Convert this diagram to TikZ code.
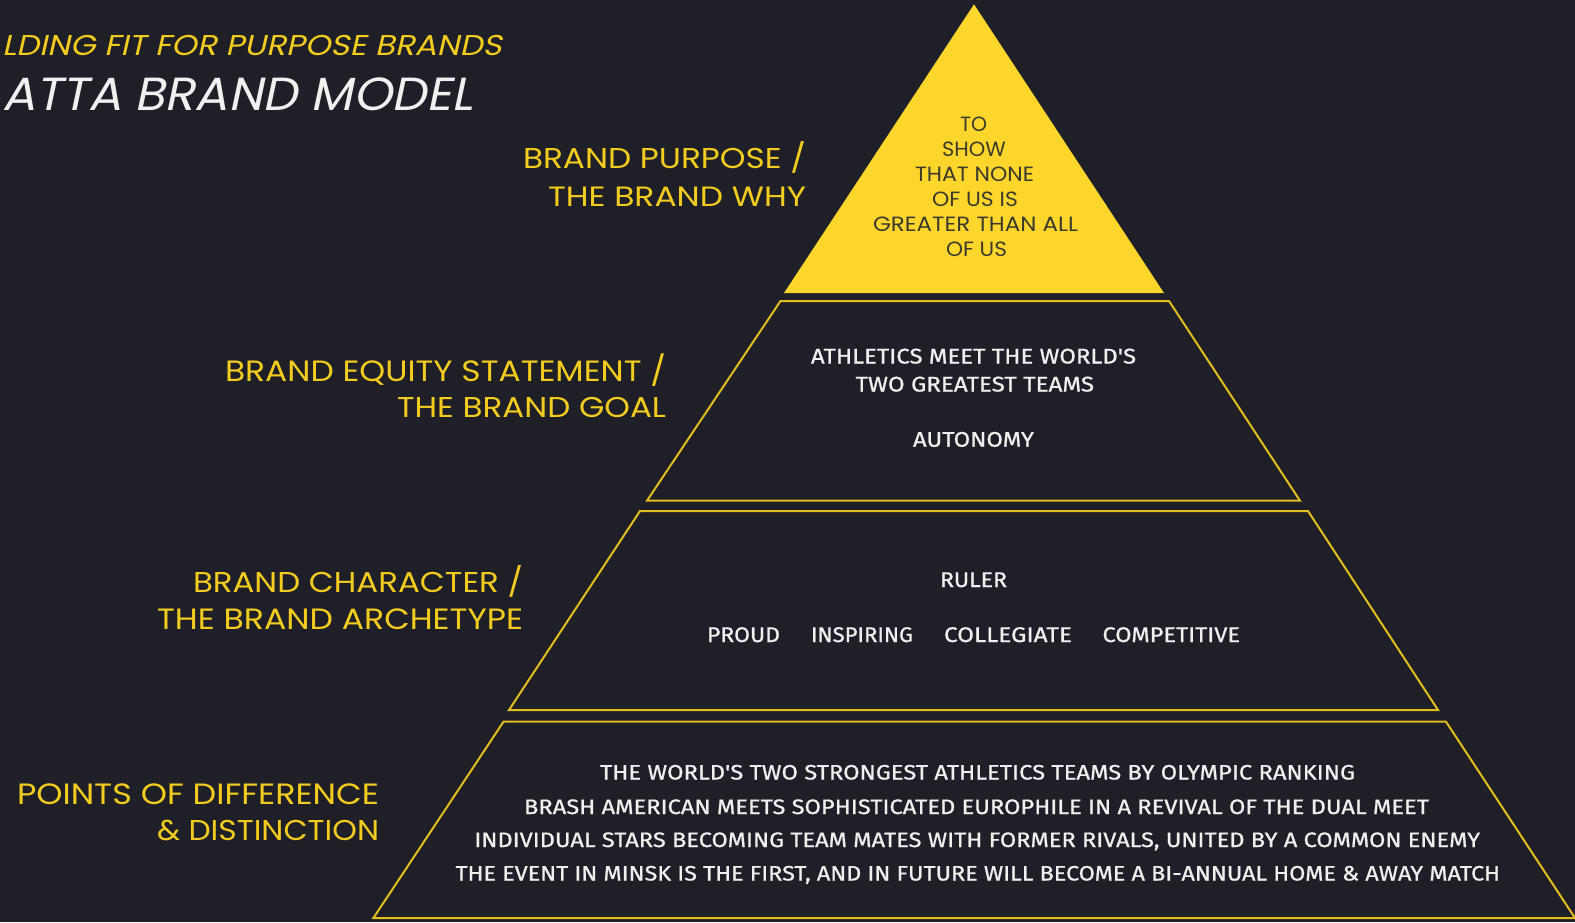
\documentclass[tikz,border=0pt]{standalone}
\usepackage{fontspec}
\usepackage{graphicx}
\newfontfamily\labfont{Poppins}
\newfontfamily\titfont[FakeSlant=0.2]{Poppins}
\newfontfamily\bodyfont[FakeBold=0.8]{Fira Sans}
\definecolor{bg}{HTML}{1F1F28}
\definecolor{ylw}{HTML}{F3CC1F}
\definecolor{tri}{HTML}{FCD62A}
\definecolor{edge}{HTML}{E2BD1E}
\definecolor{tritext}{HTML}{3B3A2C}
\definecolor{wht}{HTML}{F0F0F0}
\newsavebox\capbox
\newcommand\capfit[3]{\sbox\capbox{#3}\ht\capbox=\fontcharht\font`H\relax\dp\capbox=0pt\resizebox{#1}{#2}{\usebox\capbox}}
\newcommand\txt[7]{%
  \pgfmathsetmacro\tw{#4-#3}%
  \node[#2, anchor=base west, inner sep=0pt, outer sep=0pt] (#1) at (#3,#5) {\capfit{\tw pt}{#6pt}{#7}};%
}
\tikzset{
  titlea/.style={font=\titfont, text=ylw},
  titleb/.style={font=\titfont, text=wht},
  lab/.style={font=\labfont, text=ylw},
  tritxt/.style={font=\labfont, text=tritext},
  body/.style={font=\bodyfont, text=wht},
  tier/.style={draw=edge, line width=2pt, line join=miter},
}
\begin{document}
\begin{tikzpicture}[x=1pt,y=-1pt]
\fill[bg] (0,0) rectangle (1575,922);
\useasboundingbox (0,0) rectangle (1575,922);
% corners
\coordinate (apex) at (974,4.3);
\coordinate (tbl) at (784,293);
\coordinate (tbr) at (1164,293);
\coordinate (a1) at (780.5,301); \coordinate (a2) at (1169,301);
\coordinate (a3) at (1300,500.7); \coordinate (a4) at (647,500.7);
\coordinate (b1) at (640,511); \coordinate (b2) at (1308,511);
\coordinate (b3) at (1438,710); \coordinate (b4) at (509,710);
\coordinate (c1) at (503.5,721.7); \coordinate (c2) at (1446,721.7);
\coordinate (c3) at (1575,918); \coordinate (c4) at (373.4,918);
% pyramid
\fill[tri] (apex) -- (tbl) -- (tbr) -- cycle;
\draw[tier] (a1) -- (a2) -- (a3) -- (a4) -- cycle;
\draw[tier] (b1) -- (b2) -- (b3) -- (b4) -- cycle;
\draw[tier] (c1) -- (c2) -- (c3) -- (c4) -- cycle;
% title
\txt{t1}{titlea}{2}{501.7}{55}{20}{LDING FIT FOR PURPOSE BRANDS}
\txt{t2}{titleb}{2}{473}{110.7}{32.4}{ATTA BRAND MODEL}
% labels
\txt{l1a}{lab}{523}{806}{168}{20}{BRAND PURPOSE /}
\txt{l1b}{lab}{548}{806}{206}{19.5}{THE BRAND WHY}
\txt{l2a}{lab}{225}{666}{381}{20.5}{BRAND EQUITY STATEMENT /}
\txt{l2b}{lab}{397}{666}{417}{20}{THE BRAND GOAL}
\txt{l3a}{lab}{193}{523}{592}{20}{BRAND CHARACTER /}
\txt{l3b}{lab}{157}{523}{629}{20.5}{THE BRAND ARCHETYPE}
\txt{l4a}{lab}{17}{379}{804}{20.5}{POINTS OF DIFFERENCE}
\txt{l4b}{lab}{157}{379}{840}{20}{\& DISTINCTION}
% triangle text
\txt{p1}{tritxt}{960}{987}{131.7}{14.4}{TO}
\txt{p2}{tritxt}{942}{1005.7}{156.7}{14.4}{SHOW}
\txt{p3}{tritxt}{915}{1034}{181.7}{14.4}{THAT NONE}
\txt{p4}{tritxt}{932}{1018}{206.7}{14.4}{OF US IS}
\txt{p5}{tritxt}{873}{1078}{231.7}{14.4}{GREATER THAN ALL}
\txt{p6}{tritxt}{946}{1007}{256.7}{14.4}{OF US}
% tier 2
\txt{e1}{body}{811}{1136}{363.5}{14.6}{ATHLETICS MEET THE WORLD'S}
\txt{e2}{body}{855.5}{1094}{391.5}{14.6}{TWO GREATEST TEAMS}
\txt{e3}{body}{913}{1034}{446.7}{14.6}{AUTONOMY}
% tier 3
\txt{r0}{body}{940}{1007}{587}{14.6}{RULER}
\txt{r1}{body}{707}{780}{642}{14.6}{PROUD}
\txt{r2}{body}{811}{913}{642}{14.6}{INSPIRING}
\txt{r3}{body}{944}{1072}{642}{14.6}{COLLEGIATE}
\txt{r4}{body}{1102.5}{1240}{642}{14.6}{COMPETITIVE}
% tier 4
\txt{d1}{body}{600}{1355}{779.5}{14.4}{THE WORLD'S TWO STRONGEST ATHLETICS TEAMS BY OLYMPIC RANKING}
\txt{d2}{body}{524}{1429}{814}{14.4}{BRASH AMERICAN MEETS SOPHISTICATED EUROPHILE IN A REVIVAL OF THE DUAL MEET}
\txt{d3}{body}{474.4}{1480}{847}{14.4}{INDIVIDUAL STARS BECOMING TEAM MATES WITH FORMER RIVALS, UNITED BY A COMMON ENEMY}
\txt{d4}{body}{455.5}{1500}{880.5}{14.4}{THE EVENT IN MINSK IS THE FIRST, AND IN FUTURE WILL BECOME A BI-ANNUAL HOME \& AWAY MATCH}
\end{tikzpicture}
\end{document}
